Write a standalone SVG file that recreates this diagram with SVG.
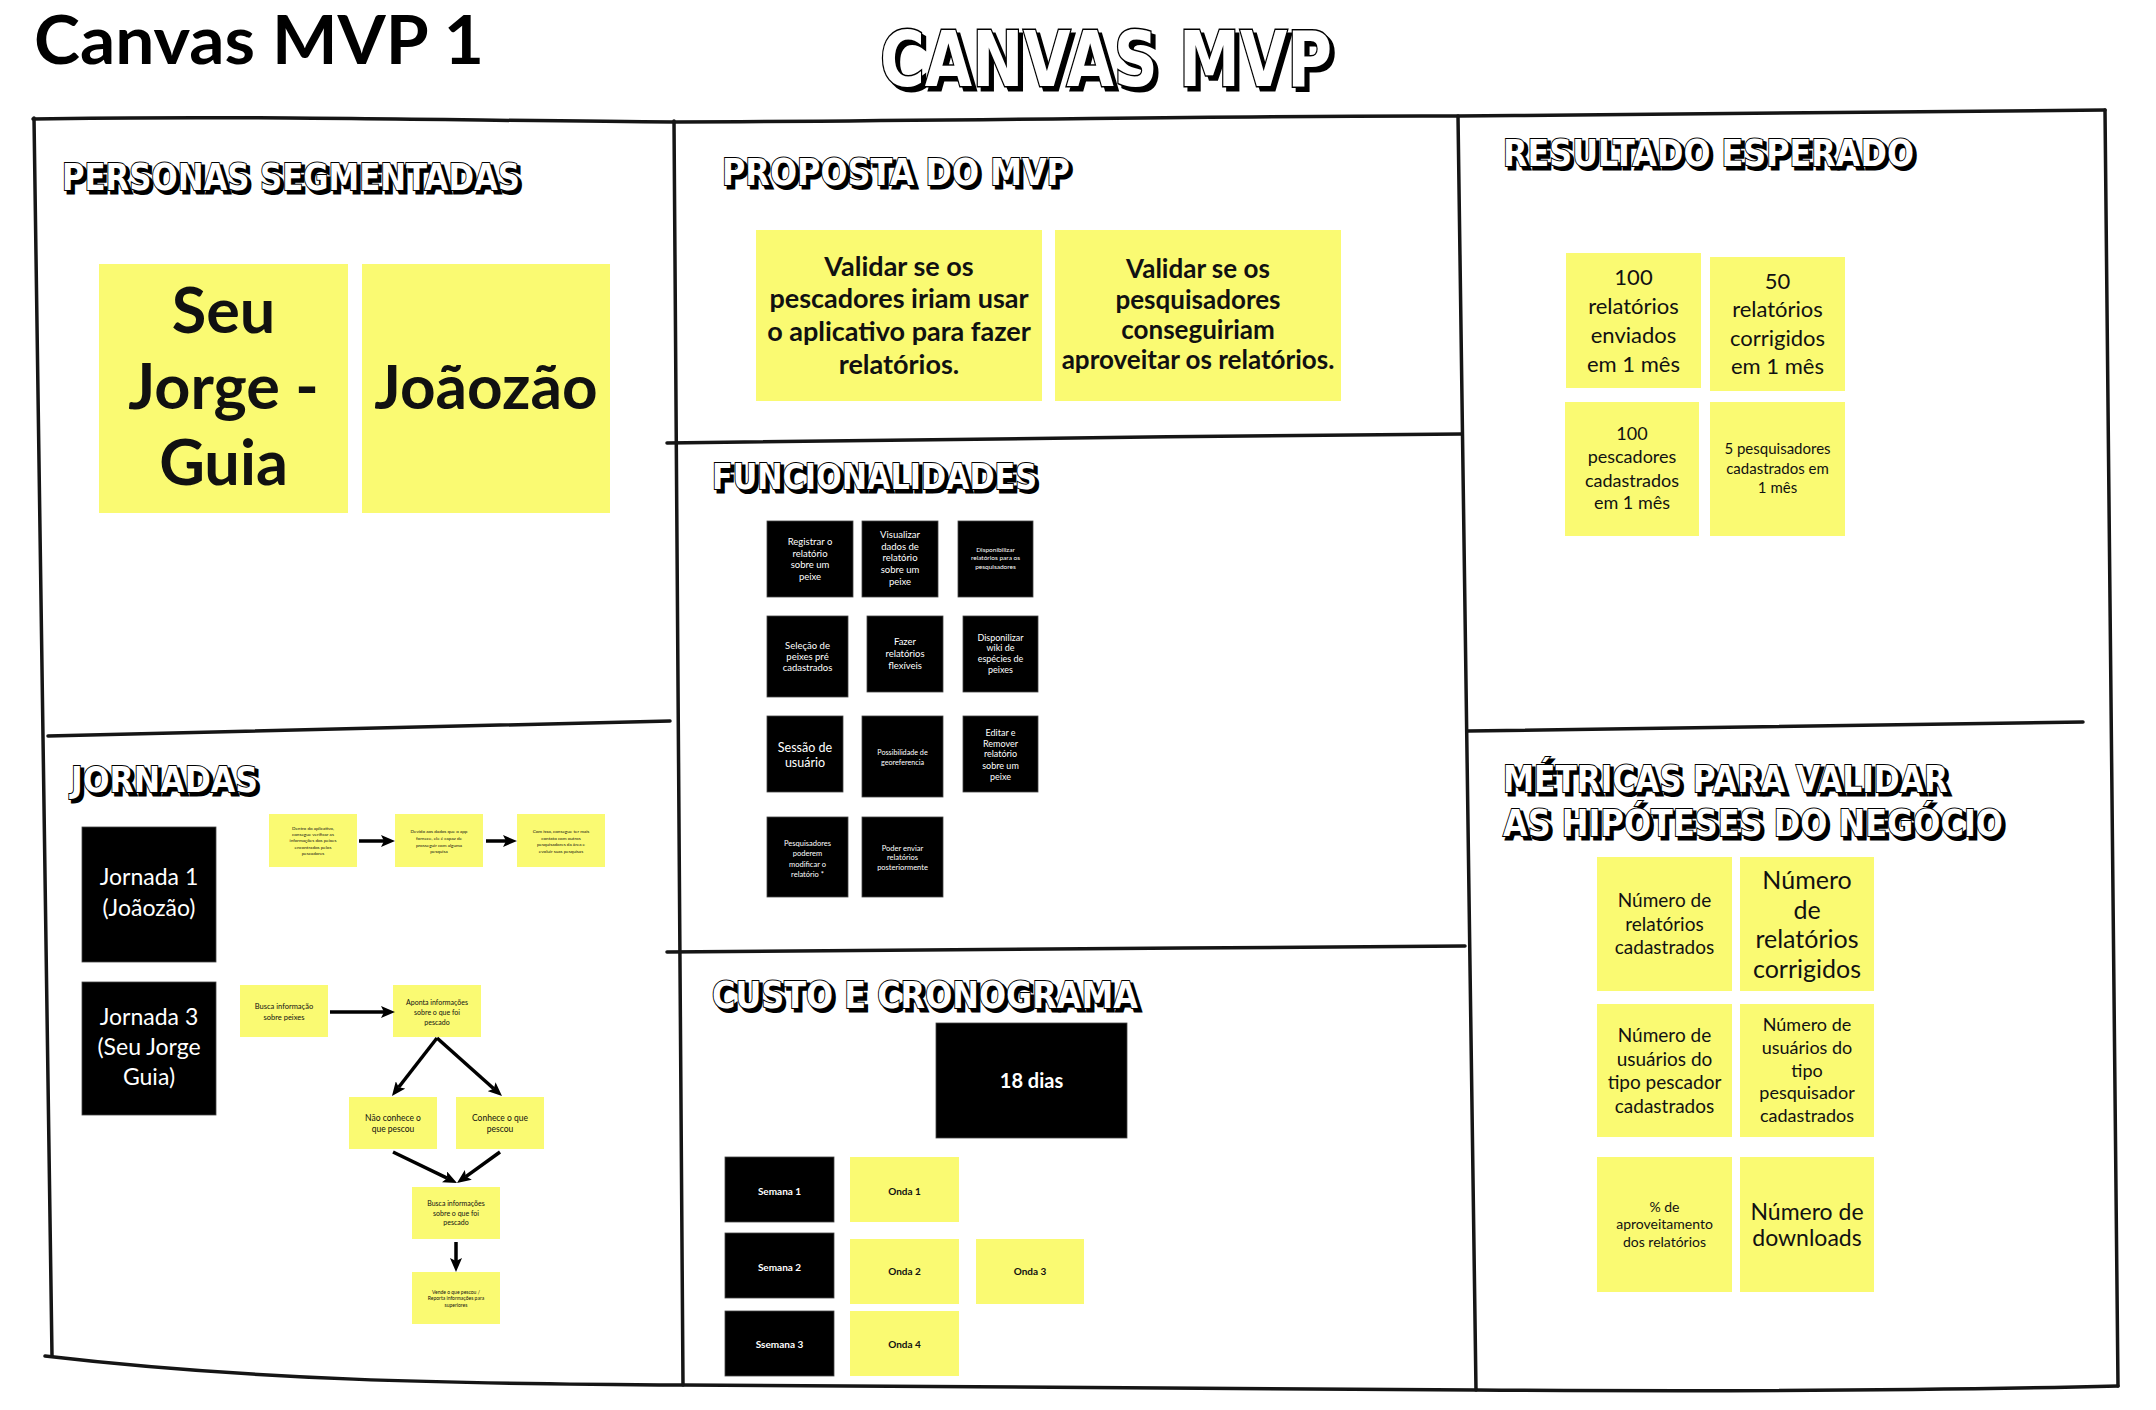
<svg xmlns="http://www.w3.org/2000/svg" xmlns:xlink="http://www.w3.org/1999/xlink" width="2156" height="1410" viewBox="0 0 2156 1410">
<style>
.y{fill:#FAFA72}
.k{fill:#000;stroke:#444;stroke-width:0.8}
.t{font-family:Lato,"Liberation Sans",sans-serif;fill:#111;text-anchor:middle}
.w{font-family:Lato,"Liberation Sans",sans-serif;fill:#fff;text-anchor:middle}
.b{font-weight:bold}
.fr{fill:none;stroke:#151515;stroke-width:3.5;stroke-linecap:round}
.ar{fill:none;stroke:#000;stroke-width:3.5;marker-end:url(#ah)}
.hd{font-family:"DejaVu Sans",sans-serif;font-weight:bold}
.hs{fill:#000;stroke:#000;stroke-width:3}
.hf{fill:#fff;stroke:#000;stroke-width:2;paint-order:stroke}
</style>
<defs>
<marker id="ah" markerUnits="userSpaceOnUse" markerWidth="14" markerHeight="12" refX="3" refY="6" orient="auto"><path d="M0,0 L14,6 L0,12 L3,6 z" fill="#000"/></marker>
<text id="h0" class="hd" x="880" y="86" font-size="76" textLength="452" lengthAdjust="spacingAndGlyphs">CANVAS MVP</text>
<text id="h1" class="hd" x="62" y="190" font-size="37" textLength="458" lengthAdjust="spacingAndGlyphs">PERSONAS SEGMENTADAS</text>
<text id="h2" class="hd" x="722" y="185" font-size="37" textLength="348" lengthAdjust="spacingAndGlyphs">PROPOSTA DO MVP</text>
<text id="h3" class="hd" x="712" y="489" font-size="36" textLength="325" lengthAdjust="spacingAndGlyphs">FUNCIONALIDADES</text>
<text id="h4" class="hd" x="71" y="792" font-size="36" textLength="187" lengthAdjust="spacingAndGlyphs">JORNADAS</text>
<text id="h5" class="hd" x="712" y="1008" font-size="37" textLength="426" lengthAdjust="spacingAndGlyphs">CUSTO E CRONOGRAMA</text>
<text id="h6" class="hd" x="1503" y="166" font-size="37" textLength="411" lengthAdjust="spacingAndGlyphs">RESULTADO ESPERADO</text>
<text id="h7" class="hd" x="1503" y="792" font-size="37" textLength="445" lengthAdjust="spacingAndGlyphs">MÉTRICAS PARA VALIDAR</text>
<text id="h8" class="hd" x="1503" y="836" font-size="37" textLength="500" lengthAdjust="spacingAndGlyphs">AS HIPÓTESES DO NEGÓCIO</text>
</defs>
<rect width="2156" height="1410" fill="#fff"/>

<text x="34" y="64" font-family="Lato,'Liberation Sans',sans-serif" font-weight="bold" font-size="66" fill="#000" textLength="450" lengthAdjust="spacingAndGlyphs">Canvas MVP 1</text>

<g id="headings">
<use xlink:href="#h0" class="hs" transform="translate(4,4)"/><use xlink:href="#h0" class="hf" style="stroke-width:3"/>
<use xlink:href="#h1" class="hs" transform="translate(3,3)"/><use xlink:href="#h1" class="hf"/>
<use xlink:href="#h2" class="hs" transform="translate(3,3)"/><use xlink:href="#h2" class="hf"/>
<use xlink:href="#h3" class="hs" transform="translate(3,3)"/><use xlink:href="#h3" class="hf"/>
<use xlink:href="#h4" class="hs" transform="translate(3,3)"/><use xlink:href="#h4" class="hf"/>
<use xlink:href="#h5" class="hs" transform="translate(3,3)"/><use xlink:href="#h5" class="hf"/>
<use xlink:href="#h6" class="hs" transform="translate(3,3)"/><use xlink:href="#h6" class="hf"/>
<use xlink:href="#h7" class="hs" transform="translate(3,3)"/><use xlink:href="#h7" class="hf"/>
<use xlink:href="#h8" class="hs" transform="translate(3,3)"/><use xlink:href="#h8" class="hf"/>
</g>

<g id="frame">
<path class="fr" d="M33,119 C250,115 480,121 674,122 C1000,121 1250,115 1458,116 C1700,114 1950,111 2105,110"/>
<path class="fr" d="M34,118 L52,1356"/>
<path class="fr" d="M45,1356 C250,1380 450,1384 683,1385 C1000,1388 1250,1391 1476,1390 C1800,1392 2000,1389 2118,1386"/>
<path class="fr" d="M2105,110 L2118,1386"/>
<path class="fr" d="M674,121 L683,1385"/>
<path class="fr" d="M1458,116 L1476,1390"/>
<path class="fr" d="M48,736 C300,731 500,725 670,721"/>
<path class="fr" d="M667,443 C900,440 1200,436 1462,434"/>
<path class="fr" d="M667,952 C900,950 1200,948 1465,946"/>
<path class="fr" d="M1468,731 C1700,727 1900,724 2083,722"/>
</g>

<g id="persona-seu-jorge"><rect class="y" x="99" y="264" width="249" height="249"/>
<text class="t b" font-size="63"><tspan x="223.5" y="333">Seu</tspan><tspan x="223.5" y="409">Jorge -</tspan><tspan x="223.5" y="485">Guia</tspan></text></g>
<g id="persona-joaozao"><rect class="y" x="362" y="264" width="248" height="249"/>
<text class="t b" font-size="62" x="486" y="409">Joãozão</text></g>

<g id="proposta-1"><rect class="y" x="756" y="230" width="286" height="171"/>
<text class="t b" font-size="27"><tspan x="899" y="276">Validar se os</tspan><tspan x="899" y="308">pescadores iriam usar</tspan><tspan x="899" y="341">o aplicativo para fazer</tspan><tspan x="899" y="374">relatórios.</tspan></text></g>
<g id="proposta-2"><rect class="y" x="1055" y="230" width="286" height="171"/>
<text class="t b" font-size="26"><tspan x="1198" y="278">Validar se os</tspan><tspan x="1198" y="309">pesquisadores</tspan><tspan x="1198" y="339">conseguiriam</tspan><tspan x="1198" y="369">aproveitar os relatórios.</tspan></text></g>

<g id="func-registrar"><rect class="k" x="767" y="521" width="86" height="76"/>
<text class="w" font-size="9.5"><tspan x="810" y="545">Registrar o</tspan><tspan x="810" y="557">relatório</tspan><tspan x="810" y="568">sobre  um</tspan><tspan x="810" y="580">peixe</tspan></text></g>
<g id="func-visualizar"><rect class="k" x="862" y="521" width="76" height="76"/>
<text class="w" font-size="9.5"><tspan x="900" y="538">Visualizar</tspan><tspan x="900" y="550">dados de</tspan><tspan x="900" y="561">relatório</tspan><tspan x="900" y="573">sobre  um</tspan><tspan x="900" y="585">peixe</tspan></text></g>
<g id="func-disponibilizar"><rect class="k" x="958" y="521" width="75" height="76"/>
<text class="w" font-size="6.5"><tspan x="995.5" y="552">Disponibilizar</tspan><tspan x="995.5" y="560">relatórios para os</tspan><tspan x="995.5" y="569">pesquisadores</tspan></text></g>
<g id="func-selecao"><rect class="k" x="767" y="616" width="81" height="81"/>
<text class="w" font-size="9.5"><tspan x="807.5" y="649">Seleção de</tspan><tspan x="807.5" y="660">peixes pré</tspan><tspan x="807.5" y="671">cadastrados</tspan></text></g>
<g id="func-fazer"><rect class="k" x="867" y="616" width="76" height="76"/>
<text class="w" font-size="9.5"><tspan x="905" y="645">Fazer</tspan><tspan x="905" y="657">relatórios</tspan><tspan x="905" y="669">flexíveis</tspan></text></g>
<g id="func-wiki"><rect class="k" x="963" y="616" width="75" height="76"/>
<text class="w" font-size="9"><tspan x="1000.5" y="641">Disponilizar</tspan><tspan x="1000.5" y="651">wiki de</tspan><tspan x="1000.5" y="662">espécies de</tspan><tspan x="1000.5" y="673">peixes</tspan></text></g>
<g id="func-sessao"><rect class="k" x="767" y="716" width="76" height="76"/>
<text class="w" font-size="12.5"><tspan x="805" y="752">Sessão de</tspan><tspan x="805" y="767">usuário</tspan></text></g>
<g id="func-geo"><rect class="k" x="862" y="716" width="81" height="81"/>
<text class="w" font-size="7.2"><tspan x="902.5" y="755">Possibilidade de</tspan><tspan x="902.5" y="765">georeferencia</tspan></text></g>
<g id="func-editar"><rect class="k" x="963" y="716" width="75" height="76"/>
<text class="w" font-size="9"><tspan x="1000.5" y="736">Editar e</tspan><tspan x="1000.5" y="747">Remover</tspan><tspan x="1000.5" y="757">relatório</tspan><tspan x="1000.5" y="769">sobre  um</tspan><tspan x="1000.5" y="780">peixe</tspan></text></g>
<g id="func-pesquisadores"><rect class="k" x="767" y="817" width="81" height="80"/>
<text class="w" font-size="7.5"><tspan x="807.5" y="846">Pesquisadores</tspan><tspan x="807.5" y="856">poderem</tspan><tspan x="807.5" y="867">modificar o</tspan><tspan x="807.5" y="877">relatório *</tspan></text></g>
<g id="func-enviar"><rect class="k" x="862" y="817" width="81" height="80"/>
<text class="w" font-size="7.5"><tspan x="902.5" y="851">Poder enviar</tspan><tspan x="902.5" y="860">relatórios</tspan><tspan x="902.5" y="870">posteriormente</tspan></text></g>

<g id="jornada-1"><rect class="k" x="82" y="827" width="134" height="135"/>
<text class="w" font-size="23"><tspan x="149" y="885">Jornada 1</tspan><tspan x="149" y="916">(Joãozão)</tspan></text></g>
<g id="jornada-3"><rect class="k" x="82" y="982" width="134" height="133"/>
<text class="w" font-size="23"><tspan x="149" y="1025">Jornada 3</tspan><tspan x="149" y="1055">(Seu Jorge</tspan><tspan x="149" y="1085">Guia)</tspan></text></g>

<g id="j1-passo-1"><rect class="y" x="269" y="814" width="88" height="53"/>
<text class="t" font-size="4.6"><tspan x="313" y="830">Dentro do aplicativo,</tspan><tspan x="313" y="836">consegue verificar as</tspan><tspan x="313" y="842">informações dos peixes</tspan><tspan x="313" y="849">encontrados pelos</tspan><tspan x="313" y="855">pescadores</tspan></text></g>
<g id="j1-passo-2"><rect class="y" x="395" y="814" width="88" height="53"/>
<text class="t" font-size="4.6"><tspan x="439" y="833">Devido aos dados que o app</tspan><tspan x="439" y="840">fornece, ele é capaz de</tspan><tspan x="439" y="847">prosseguir com alguma</tspan><tspan x="439" y="853">pesquisa</tspan></text></g>
<g id="j1-passo-3"><rect class="y" x="517" y="814" width="88" height="53"/>
<text class="t" font-size="4.6"><tspan x="561" y="833">Com isso, consegue ter mais</tspan><tspan x="561" y="840">contato com outros</tspan><tspan x="561" y="846">pesquisadores da área e</tspan><tspan x="561" y="853">evoluir suas pesquisas</tspan></text></g>

<g id="j3-busca"><rect class="y" x="240" y="985" width="88" height="52"/>
<text class="t" font-size="7.5"><tspan x="284" y="1009">Busca informação</tspan><tspan x="284" y="1020">sobre peixes</tspan></text></g>
<g id="j3-aponta"><rect class="y" x="393" y="985" width="88" height="52"/>
<text class="t" font-size="7"><tspan x="437" y="1005">Aponta informações</tspan><tspan x="437" y="1015">sobre o que foi</tspan><tspan x="437" y="1025">pescado</tspan></text></g>
<g id="j3-nao-conhece"><rect class="y" x="349" y="1097" width="88" height="52"/>
<text class="t" font-size="8.5"><tspan x="393" y="1121">Não conhece o</tspan><tspan x="393" y="1132">que pescou</tspan></text></g>
<g id="j3-conhece"><rect class="y" x="456" y="1097" width="88" height="52"/>
<text class="t" font-size="8.5"><tspan x="500" y="1121">Conhece o que</tspan><tspan x="500" y="1132">pescou</tspan></text></g>
<g id="j3-busca-info"><rect class="y" x="412" y="1187" width="88" height="52"/>
<text class="t" font-size="7"><tspan x="456" y="1206">Busca informações</tspan><tspan x="456" y="1216">sobre o que foi</tspan><tspan x="456" y="1225">pescado</tspan></text></g>
<g id="j3-vende"><rect class="y" x="412" y="1272" width="88" height="52"/>
<text class="t" font-size="5"><tspan x="456" y="1294">Vende o que pescou /</tspan><tspan x="456" y="1300">Reporta informações para</tspan><tspan x="456" y="1307">superiores</tspan></text></g>

<g id="connectors">
<path class="ar" d="M359,841 L384,841"/>
<path class="ar" d="M486,841 L506,841"/>
<path class="ar" d="M330,1012 L384,1012"/>
<path class="ar" d="M437,1038 L398.7,1087.3"/>
<path class="ar" d="M437,1038 L493.8,1088.7"/>
<path class="ar" d="M393,1152 L447.1,1178.2"/>
<path class="ar" d="M500,1152 L465.9,1176.6"/>
<path class="ar" d="M456,1242 L456,1261"/>
</g>

<g id="custo-18-dias"><rect class="k" x="936" y="1023" width="191" height="115"/>
<text class="w b" font-size="20" x="1031.5" y="1088">18 dias</text></g>
<g id="semana-1"><rect class="k" x="725" y="1157" width="109" height="65"/><text class="w b" font-size="10" x="779.5" y="1195">Semana 1</text></g>
<g id="onda-1"><rect class="y" x="850" y="1157" width="109" height="65"/><text class="t b" font-size="10" x="904.5" y="1195">Onda 1</text></g>
<g id="semana-2"><rect class="k" x="725" y="1233" width="109" height="65"/><text class="w b" font-size="10" x="779.5" y="1271">Semana 2</text></g>
<g id="onda-2"><rect class="y" x="850" y="1239" width="109" height="65"/><text class="t b" font-size="10" x="904.5" y="1275">Onda 2</text></g>
<g id="onda-3"><rect class="y" x="976" y="1239" width="108" height="65"/><text class="t b" font-size="10" x="1030" y="1275">Onda 3</text></g>
<g id="semana-3"><rect class="k" x="725" y="1311" width="109" height="65"/><text class="w b" font-size="10" x="779.5" y="1348">Ssemana 3</text></g>
<g id="onda-4"><rect class="y" x="850" y="1311" width="109" height="65"/><text class="t b" font-size="10" x="904.5" y="1348">Onda 4</text></g>

<g id="resultado-1"><rect class="y" x="1566" y="253" width="135" height="135"/>
<text class="t" font-size="22"><tspan x="1633.5" y="285">100</tspan><tspan x="1633.5" y="314">relatórios</tspan><tspan x="1633.5" y="343">enviados</tspan><tspan x="1633.5" y="372">em 1 mês</tspan></text></g>
<g id="resultado-2"><rect class="y" x="1710" y="257" width="135" height="134"/>
<text class="t" font-size="22"><tspan x="1777.5" y="289">50</tspan><tspan x="1777.5" y="317">relatórios</tspan><tspan x="1777.5" y="346">corrigidos</tspan><tspan x="1777.5" y="374">em 1 mês</tspan></text></g>
<g id="resultado-3"><rect class="y" x="1565" y="402" width="134" height="134"/>
<text class="t" font-size="18"><tspan x="1632" y="440">100</tspan><tspan x="1632" y="463">pescadores</tspan><tspan x="1632" y="487">cadastrados</tspan><tspan x="1632" y="509">em 1 mês</tspan></text></g>
<g id="resultado-4"><rect class="y" x="1710" y="402" width="135" height="134"/>
<text class="t" font-size="15"><tspan x="1777.5" y="454">5 pesquisadores</tspan><tspan x="1777.5" y="474">cadastrados em</tspan><tspan x="1777.5" y="493">1 mês</tspan></text></g>

<g id="metrica-1"><rect class="y" x="1597" y="857" width="135" height="134"/>
<text class="t" font-size="19"><tspan x="1664.5" y="907">Número de</tspan><tspan x="1664.5" y="931">relatórios</tspan><tspan x="1664.5" y="954">cadastrados</tspan></text></g>
<g id="metrica-2"><rect class="y" x="1740" y="857" width="134" height="134"/>
<text class="t" font-size="25"><tspan x="1807" y="889">Número</tspan><tspan x="1807" y="919">de</tspan><tspan x="1807" y="948">relatórios</tspan><tspan x="1807" y="978">corrigidos</tspan></text></g>
<g id="metrica-3"><rect class="y" x="1597" y="1004" width="135" height="133"/>
<text class="t" font-size="19"><tspan x="1664.5" y="1042">Número de</tspan><tspan x="1664.5" y="1066">usuários do</tspan><tspan x="1664.5" y="1089">tipo pescador</tspan><tspan x="1664.5" y="1113">cadastrados</tspan></text></g>
<g id="metrica-4"><rect class="y" x="1740" y="1004" width="134" height="133"/>
<text class="t" font-size="18"><tspan x="1807" y="1031">Número de</tspan><tspan x="1807" y="1054">usuários do</tspan><tspan x="1807" y="1077">tipo</tspan><tspan x="1807" y="1099">pesquisador</tspan><tspan x="1807" y="1122">cadastrados</tspan></text></g>
<g id="metrica-5"><rect class="y" x="1597" y="1157" width="135" height="135"/>
<text class="t" font-size="14"><tspan x="1664.5" y="1212">% de</tspan><tspan x="1664.5" y="1229">aproveitamento</tspan><tspan x="1664.5" y="1247">dos relatórios</tspan></text></g>
<g id="metrica-6"><rect class="y" x="1740" y="1157" width="134" height="135"/>
<text class="t" font-size="23"><tspan x="1807" y="1220">Número de</tspan><tspan x="1807" y="1246">downloads</tspan></text></g>
</svg>
